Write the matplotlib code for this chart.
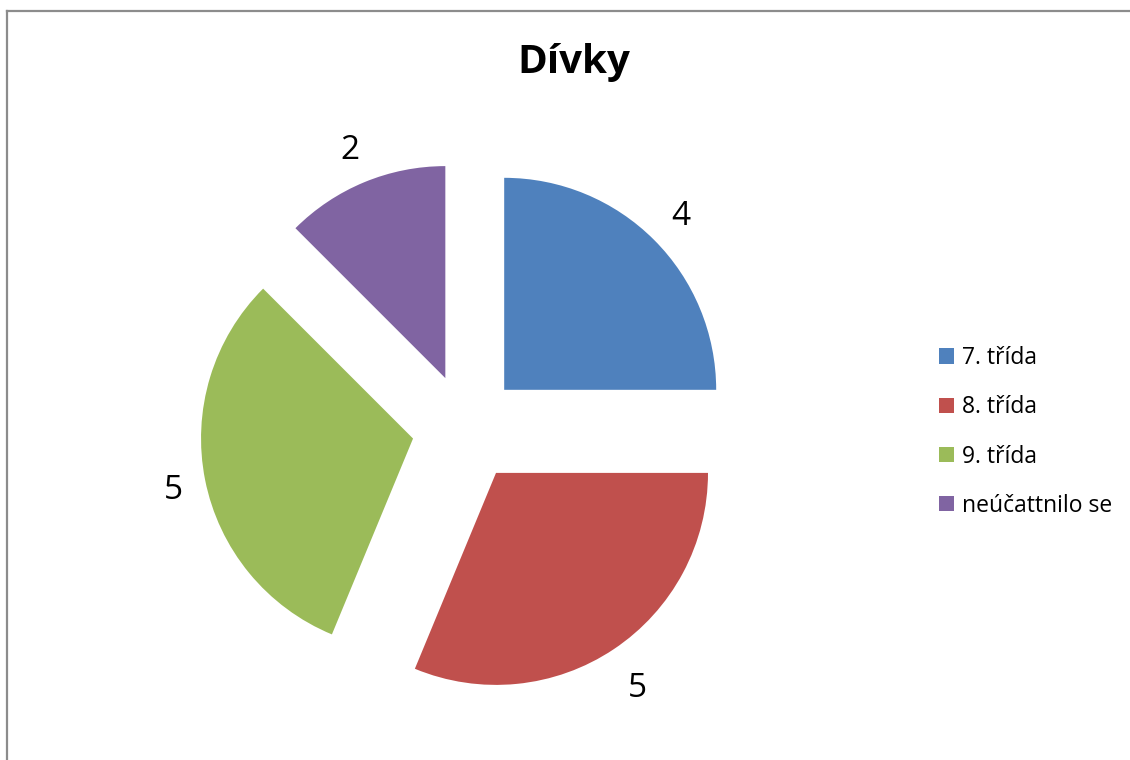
import math
import matplotlib
matplotlib.use("Agg")
import matplotlib.pyplot as plt
from matplotlib.patches import Patch
from matplotlib.lines import Line2D

categories = ["7. třída", "8. třída", "9. třída", "neúčattnilo se"]
values = [4, 5, 5, 2]
colors = ["#4F81BD", "#C0504D", "#9BBB59", "#8064A2"]
title = "Dívky"

plt.rcParams['font.family'] = ['Open Sans', 'DejaVu Sans']

W, H = 1130, 760
fig = plt.figure(figsize=(W / 100, H / 100), dpi=100)
ax = fig.add_axes([0, 0, 1, 1])

wedges, texts = ax.pie(
    values, colors=colors, startangle=90, counterclock=False,
    center=(466, H - 428), radius=212, explode=[54] * len(values),
    labels=[str(v) for v in values], labeldistance=None,
    wedgeprops=dict(linewidth=0), frame=True,
)
# value labels outside each wedge
label_dist = [1.18, 1.2, 1.15, 1.18]
for w, v, d in zip(wedges, values, label_dist):
    thetam = math.radians((w.theta1 + w.theta2) / 2)
    cx, cy = w.center
    ax.text(cx + d * w.r * math.cos(thetam), cy + d * w.r * math.sin(thetam) - 4,
            str(v), ha='center', va='center', fontsize=24, color='black')

ax.set_xlim(0, W)
ax.set_ylim(0, H)
ax.set_aspect('auto')
ax.axis('off')

fig.text(574 / W, 1 - 62 / H, title, ha='center', va='center', fontsize=29, fontweight='bold')

handles = [Patch(facecolor=c, edgecolor='none') for c in colors]
leg = fig.legend(handles, categories, loc='center left', bbox_to_anchor=(939 / W, 1 - 432 / H),
                 frameon=False, fontsize=16.5, handlelength=0.65, handleheight=0.65,
                 handletextpad=0.35, labelspacing=1.1, borderpad=0, borderaxespad=0)

# chart border (top and left visible)
fig.add_artist(Line2D([7 / W, 1], [1 - 10.5 / H, 1 - 10.5 / H], color='#8c8c8c', lw=1.6, transform=fig.transFigure))
fig.add_artist(Line2D([7 / W, 7 / W], [0, 1 - 10.5 / H], color='#8c8c8c', lw=1.6, transform=fig.transFigure))

fig.savefig("out.png", dpi=100)
